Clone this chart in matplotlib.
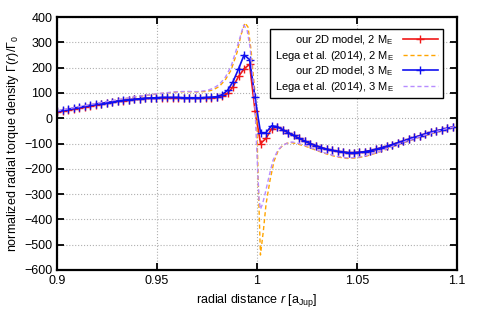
import numpy as np
import matplotlib.pyplot as plt

plt.rcParams['font.family'] = ['Liberation Sans', 'DejaVu Sans']
plt.rcParams['mathtext.fontset'] = 'custom'
plt.rcParams['mathtext.rm'] = 'Liberation Sans'
plt.rcParams['mathtext.it'] = 'Liberation Sans:italic'

# radial grid of the 2D model (cell positions, r in a_Jup)
r_model = [0.9 + 0.00275 * k for k in range(73)]

model_3me = [27, 31, 35, 39, 43, 47, 51, 55, 58, 62,
             65, 68, 71, 73, 75, 77, 79, 80, 81, 82,
             82, 82, 82, 81, 81, 81, 81, 82, 83, 85,
             93, 110, 145, 195, 250, 232, 82, -57, -57, -30,
             -33, -45, -57, -68, -80, -90, -100, -108, -116, -122,
             -127, -131, -134, -136, -136, -135, -132, -128, -123, -117,
             -111, -104, -97, -90, -83, -76, -69, -62, -56, -50,
             -45, -40, -35]

model_2me = [26, 30, 34, 38, 42, 46, 50, 54, 57, 61,
             64, 67, 70, 72, 74, 76, 78, 79, 80, 81,
             81, 81, 81, 80, 80, 80, 80, 80, 80, 82,
             86, 98, 125, 165, 195, 213, 30, -100, -80, -42,
             -34, -45, -57, -68, -80, -90, -100, -108, -116, -122,
             -127, -131, -134, -136, -136, -135, -132, -128, -123, -117,
             -111, -104, -97, -90, -83, -76, -69, -62, -56, -50,
             -45, -40, -35]

r_lega2 = [0.9, 0.91, 0.92, 0.93, 0.94, 0.95, 0.955, 0.96, 0.965, 0.97,
           0.975, 0.978, 0.981, 0.984, 0.987, 0.99, 0.992, 0.994, 0.9955, 0.997,
           0.998, 0.999, 0.9998, 1.0007, 1.0017, 1.0032, 1.0045, 1.0065, 1.0085, 1.0107,
           1.013, 1.015, 1.0175, 1.02, 1.025, 1.03, 1.035, 1.04, 1.045, 1.05,
           1.055, 1.06, 1.065, 1.07, 1.075, 1.08, 1.085, 1.09, 1.095, 1.1]
lega_2me = [28, 43, 58, 72, 85, 96, 100, 104, 105, 104,
            106, 112, 125, 150, 190, 260, 330, 377, 360, 270,
            180, 100, -10, -280, -541, -443, -340, -245, -170, -126,
            -106, -99, -97, -101, -113, -128, -142, -153, -159, -157,
            -149, -137, -122, -106, -91, -78, -66, -54, -43, -33]

r_lega3 = [0.9, 0.91, 0.92, 0.93, 0.94, 0.95, 0.955, 0.96, 0.965, 0.97,
           0.975, 0.978, 0.981, 0.984, 0.987, 0.99, 0.9933, 0.995, 0.9965, 0.998,
           0.999, 1.0, 1.001, 1.0017, 1.0027, 1.004, 1.006, 1.008, 1.0105, 1.013,
           1.0155, 1.0175, 1.02, 1.025, 1.03, 1.035, 1.04, 1.045, 1.05, 1.055,
           1.06, 1.065, 1.07, 1.075, 1.08, 1.085, 1.09, 1.095, 1.1]
lega_3me = [29, 44, 59, 73, 86, 97, 101, 105, 106, 105,
            110, 118, 133, 160, 205, 280, 368, 350, 280, 150,
            40, -150, -320, -360, -340, -300, -230, -166, -125, -107,
            -97, -94, -98, -110, -126, -140, -151, -157, -155, -147,
            -135, -120, -104, -89, -76, -64, -52, -41, -31]

fig = plt.figure(figsize=(4.8, 3.28), dpi=100)
ax = fig.add_axes([0.119, 0.177, 0.833, 0.771])

ax.plot(r_model, model_2me, '-', color='#f01818', lw=1.2, marker='+',
        ms=6, mew=1.0, label=r'our 2D model, 2 M$_\mathrm{E}$')
ax.plot(r_lega2, lega_2me, '--', color='#ffa500', lw=1.0, dashes=(3, 2),
        label=r'Lega et al. (2014), 2 M$_\mathrm{E}$')
ax.plot(r_model, model_3me, '-', color='#1010f0', lw=1.2, marker='+',
        ms=6, mew=1.0, label=r'our 2D model, 3 M$_\mathrm{E}$')
ax.plot(r_lega3, lega_3me, '--', color='#b78cff', lw=1.0, dashes=(3, 2),
        label=r'Lega et al. (2014), 3 M$_\mathrm{E}$')

ax.set_xlim(0.9, 1.1)
ax.set_ylim(-600, 400)
ax.set_xticks([0.9, 0.95, 1.0, 1.05, 1.1])
ax.set_xticklabels(['0.9', '0.95', '1', '1.05', '1.1'])
ax.set_yticks(np.arange(-600, 401, 100))
ax.grid(True, color='#b0b0b0', ls=':', lw=0.8)
ax.tick_params(direction='in', top=True, right=True, length=5, width=1.3,
               labelsize=9)
for s in ax.spines.values():
    s.set_linewidth(1.6)

ax.set_xlabel(r'radial distance $r$ [a$_\mathrm{Jup}$]', fontsize=9, labelpad=4)
ax.set_ylabel(r'normalized radial torque density $\Gamma(r)/\Gamma_0$',
              fontsize=9, labelpad=2)

leg = ax.legend(loc='upper right', markerfirst=False, fontsize=8,
                fancybox=False, framealpha=1, edgecolor='black',
                handlelength=3.2, borderpad=0.4, labelspacing=0.15,
                bbox_to_anchor=(0.978, 0.975))
leg.get_frame().set_linewidth(1.0)
for col in leg._legend_handle_box.get_children():
    col.align = 'right'

fig.savefig('out.png', dpi=100)
